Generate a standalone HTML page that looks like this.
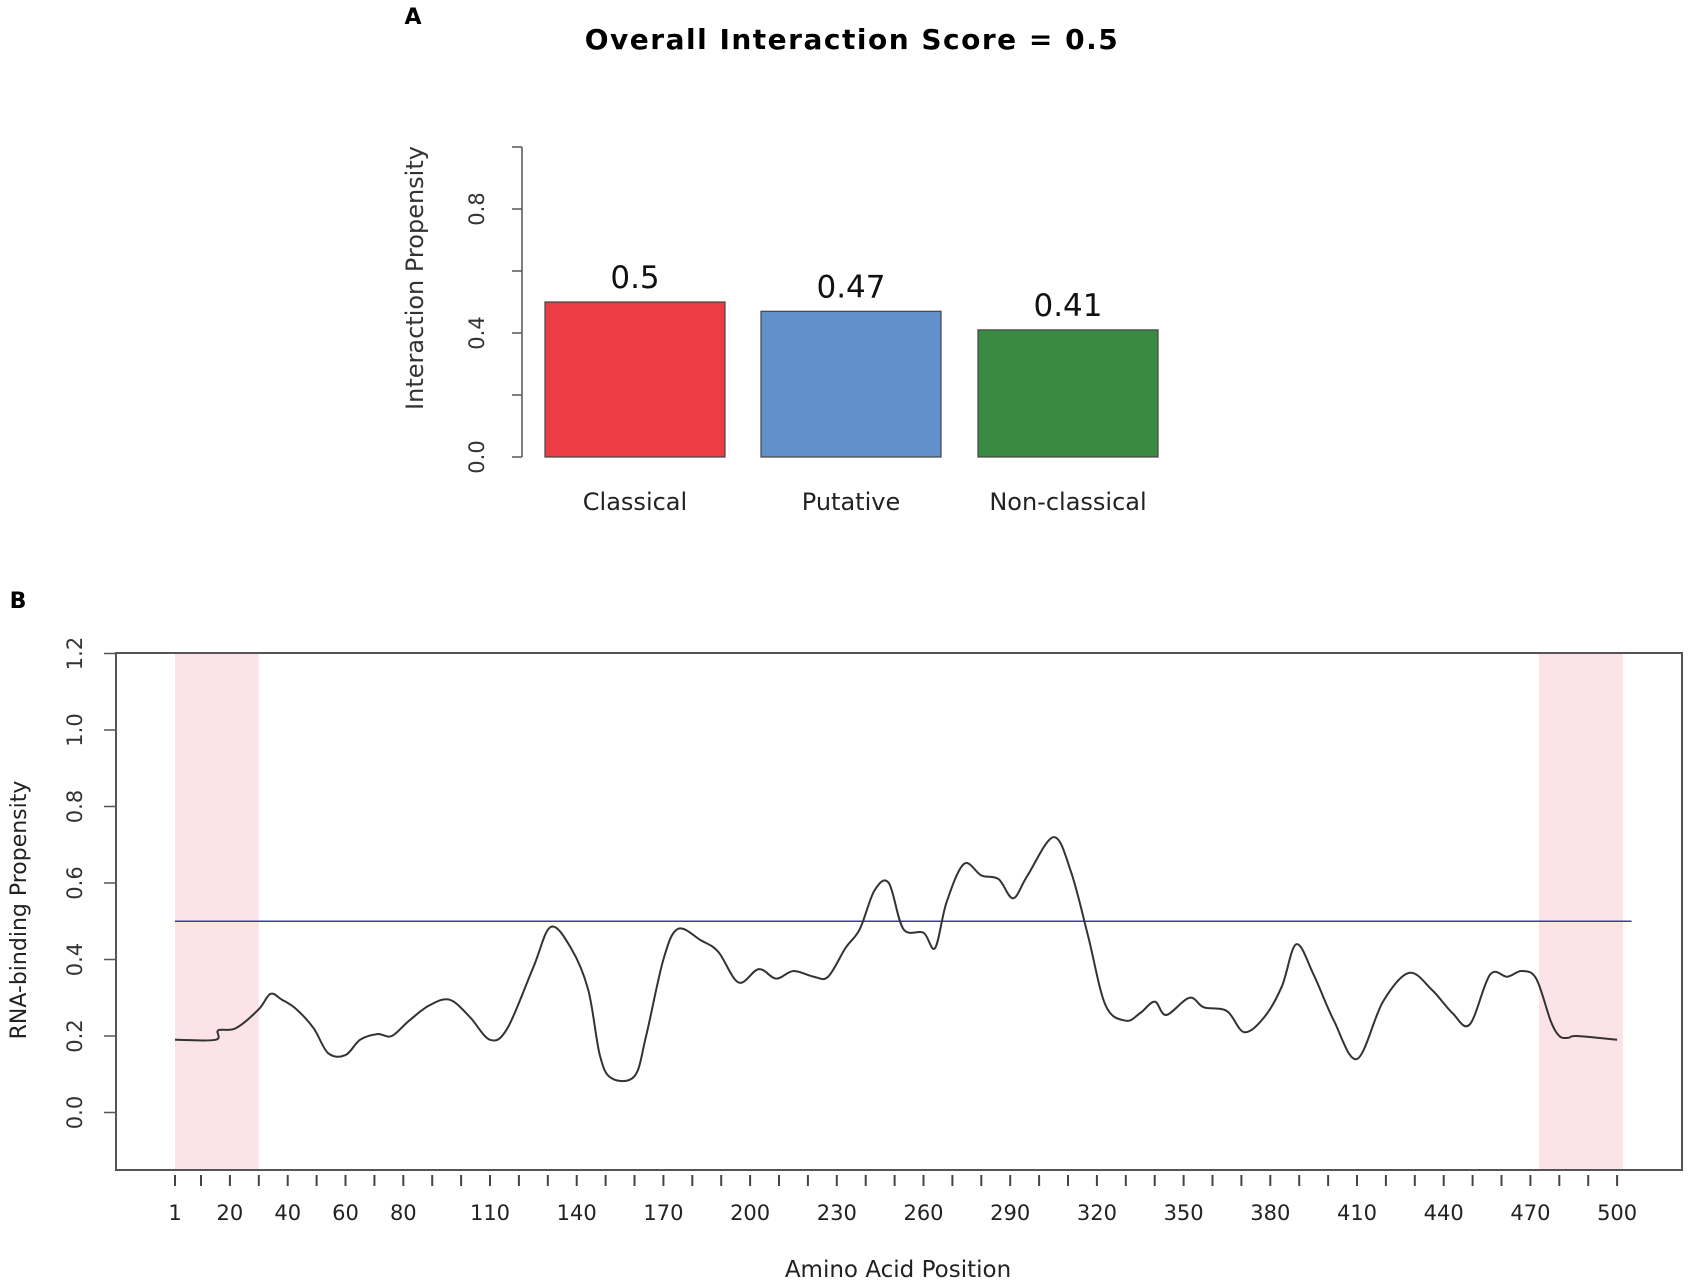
<!DOCTYPE html>
<html><head><meta charset="utf-8"><style>
html,body{margin:0;padding:0;background:#fff;}
svg{display:block;font-family:"DejaVu Sans","Liberation Sans",sans-serif;}
</style></head><body>
<svg id="fig" width="1690" height="1282" viewBox="0 0 1690 1282">
<text x="413" y="24" font-size="22" font-weight="bold" text-anchor="middle">A</text>
<text x="852" y="49" font-size="28" font-weight="bold" text-anchor="middle" letter-spacing="1.5">Overall Interaction Score =  0.5</text>
<text x="898" y="1277" font-size="23" text-anchor="middle" fill="#222">Amino Acid Position</text>
<text x="18" y="608" font-size="22" font-weight="bold" text-anchor="middle">B</text>
<g id="barA"></g>
<g id="lineB"></g>
</svg>
<script>
const barCats = ["Classical","Putative","Non-classical"];
const barVals = [0.5,0.47,0.41];
const barLabels = ["0.5","0.47","0.41"];
const barColors = ["#ec3c44","#6290cb","#3a8a43"];
const barTicks = [0.0,0.2,0.4,0.6,0.8,1.0];
const barTickLabels = ["0.0","","0.4","","0.8",""];

const posData = [1,15,16,22,30,34,38,43,49,54,60,65,71,76,82,89,96,103,110,116,125,131,138,144,148,152,160,164,170,175,183,189,196,203,209,215,222,227,233,238,243,248,253,260,264,268,274,280,286,291,296,305,311,317,323,330,335,340,344,352,357,365,371,378,384,389,395,402,410,419,428,436,443,449,456,462,467,472,477,480,483,486,500];
const valData = [0.19,0.19,0.215,0.22,0.27,0.31,0.295,0.27,0.22,0.155,0.15,0.19,0.205,0.20,0.24,0.28,0.295,0.25,0.19,0.22,0.38,0.485,0.43,0.32,0.15,0.09,0.095,0.20,0.40,0.48,0.45,0.42,0.34,0.375,0.35,0.37,0.355,0.355,0.43,0.48,0.58,0.60,0.48,0.47,0.43,0.55,0.65,0.62,0.61,0.56,0.62,0.72,0.63,0.46,0.28,0.24,0.26,0.29,0.255,0.30,0.275,0.265,0.21,0.25,0.33,0.44,0.36,0.24,0.14,0.29,0.365,0.32,0.26,0.23,0.36,0.355,0.37,0.35,0.24,0.20,0.195,0.20,0.19];
const yTicksB = [0.0,0.2,0.4,0.6,0.8,1.0,1.2];
const yTickLabelsB = ["0.0","0.2","0.4","0.6","0.8","1.0","1.2"];
const xLabelsB = [1,20,40,60,80,110,140,170,200,230,260,290,320,350,380,410,440,470,500];
const shadeRegions = [[1,30],[473,502]];
const threshold = 0.5;

const NS="http://www.w3.org/2000/svg";
function mk(tag,attrs,parent,txt){const e=document.createElementNS(NS,tag);for(const k in attrs)e.setAttribute(k,attrs[k]);if(txt!==undefined)e.textContent=txt;parent.appendChild(e);return e;}

// Panel A
const gA=document.getElementById('barA');
const yA=v=>457-v*310;
const barX=[545,761,978], barW=180;
let ax=mk('line',{x1:522,y1:yA(0),x2:522,y2:yA(1),stroke:'#555','stroke-width':1.5},gA);


barTicks.forEach((t,i)=>{
  let tk=mk('line',{x1:512,y1:yA(t),x2:522,y2:yA(t),stroke:'#555','stroke-width':1.5},gA);
  
  
  if(barTickLabels[i]){
    let tl=mk('text',{x:0,y:0,'font-size':21,'text-anchor':'middle',fill:'#333',transform:`translate(484,${yA(t)}) rotate(-90)`},gA,barTickLabels[i]);
    
    
  }
});
let yt=mk('text',{x:0,y:0,'font-size':24,'text-anchor':'middle',fill:'#333',transform:'translate(423,278) rotate(-90)'},gA,'Interaction Propensity');


barCats.forEach((c,i)=>{
  let r=mk('rect',{x:barX[i],y:yA(barVals[i]),width:barW,height:yA(0)-yA(barVals[i]),fill:barColors[i],stroke:'#444','stroke-width':1.2},gA);
  
  
  let vl=mk('text',{x:barX[i]+barW/2,y:yA(barVals[i])-14,'font-size':31,'text-anchor':'middle',fill:'#111'},gA,barLabels[i]);
  
  
  let cl=mk('text',{x:barX[i]+barW/2,y:510,'font-size':24,'text-anchor':'middle',fill:'#222'},gA,c);
  
  
});

// Panel B
const gB=document.getElementById('lineB');
const xB=p=>175+(p-1)*2.89;
const yB=v=>1112.5-v*382.5;
shadeRegions.forEach(r=>{
  let s=mk('rect',{x:xB(r[0]),y:653,width:xB(r[1])-xB(r[0]),height:1170-653,fill:'#fbe3e8'},gB);
  
  
});
let box=mk('rect',{x:116,y:653,width:1682-116,height:1170-653,fill:'none',stroke:'#555','stroke-width':2},gB);


yTicksB.forEach((t,i)=>{
  let tk=mk('line',{x1:104,y1:yB(t),x2:116,y2:yB(t),stroke:'#555','stroke-width':1.5},gB);
  
  
  let tl=mk('text',{x:0,y:0,'font-size':21,'text-anchor':'middle',fill:'#333',transform:`translate(82,${yB(t)}) rotate(-90)`},gB,yTickLabelsB[i]);
  
  
});
let ytB=mk('text',{x:0,y:0,'font-size':22,'text-anchor':'middle',fill:'#222',transform:'translate(26,910) rotate(-90)'},gB,'RNA-binding Propensity');


const tickPos=[1];for(let p=10;p<=500;p+=10)tickPos.push(p);
tickPos.forEach(p=>{
  let tk=mk('line',{x1:xB(p),y1:1175,x2:xB(p),y2:1186,stroke:'#444','stroke-width':2},gB);
  
  
});
xLabelsB.forEach(p=>{
  let tl=mk('text',{x:xB(p),y:1220,'font-size':21,'text-anchor':'middle',fill:'#222'},gB,String(p));
  
  
});
let th=mk('line',{x1:xB(1),y1:yB(threshold),x2:xB(505),y2:yB(threshold),stroke:'#3a3ab8','stroke-width':1.5},gB);


const P=posData.map((p,i)=>[xB(p),yB(valData[i])]);
let d='M'+P[0][0].toFixed(1)+','+P[0][1].toFixed(1);
for(let i=0;i<P.length-1;i++){
  const p0=P[Math.max(i-1,0)],p1=P[i],p2=P[i+1],p3=P[Math.min(i+2,P.length-1)];
  const c1x=p1[0]+(p2[0]-p0[0])/6,c1y=p1[1]+(p2[1]-p0[1])/6;
  const c2x=p2[0]-(p3[0]-p1[0])/6,c2y=p2[1]-(p3[1]-p1[1])/6;
  d+=` C${c1x.toFixed(1)},${c1y.toFixed(1)} ${c2x.toFixed(1)},${c2y.toFixed(1)} ${p2[0].toFixed(1)},${p2[1].toFixed(1)}`;
}
let ln=mk('path',{d:d,fill:'none',stroke:'#333','stroke-width':2,'stroke-linejoin':'round'},gB);


</script>
</body></html>
